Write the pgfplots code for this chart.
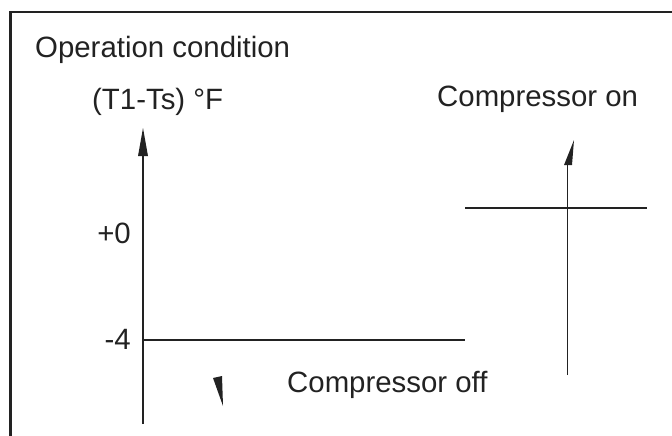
\documentclass[border=0pt]{standalone}
\usepackage{pgfplots}
\pgfplotsset{compat=1.18}
\usepackage{fontspec}
\setmainfont{Liberation Sans}
\definecolor{ink}{HTML}{222222}
\begin{document}
\begin{tikzpicture}
\useasboundingbox (0,0) rectangle (672bp,436bp);
\begin{axis}[at={(0,0)},anchor=south west,
  width=672bp,height=436bp,scale only axis,
  hide axis,clip=false,
  xmin=0,xmax=672,ymin=0,ymax=436,y dir=reverse,
  nodes={font=\fontsize{29.5}{34}\selectfont,text=ink,inner sep=0pt}]
% frame
\addplot[ink,solid,no markers,line width=2.2bp] coordinates {(10.5,440)(10.5,12)(680,12)};
% vertical axis
\addplot[ink,solid,no markers,line width=1.6bp] coordinates {(143,424)(143,150)};
\addplot[fill=ink,draw=none,no markers] coordinates {(138,156)(143,128)(148,156)(138,156)};
% lower threshold
\addplot[ink,solid,no markers,line width=1.6bp] coordinates {(143,340)(465,340)};
% upper threshold
\addplot[ink,solid,no markers,line width=1.6bp] coordinates {(465,208)(647,208)};
% right vertical arrow
\addplot[ink,solid,no markers,line width=1.6bp] coordinates {(567.5,375)(567.5,160)};
\addplot[fill=ink,draw=none,no markers] coordinates {(564,165)(574,140)(572,165)(564,165)};
% wedge
\addplot[fill=ink,draw=none,no markers] coordinates {(213,378)(222,376)(223,406)(213,378)};
% labels
\node[anchor=base west] at (axis cs:35,58) {Operation condition};
\node[anchor=base west] at (axis cs:92,110) {(T1-Ts) °F};
\node[anchor=base west] at (axis cs:437,107) {Compressor on};
\node[anchor=base east] at (axis cs:131,243) {+0};
\node[anchor=base east] at (axis cs:131,349) {-4};
\node[anchor=base west] at (axis cs:287,392) {Compressor off};
\end{axis}
\end{tikzpicture}
\end{document}
